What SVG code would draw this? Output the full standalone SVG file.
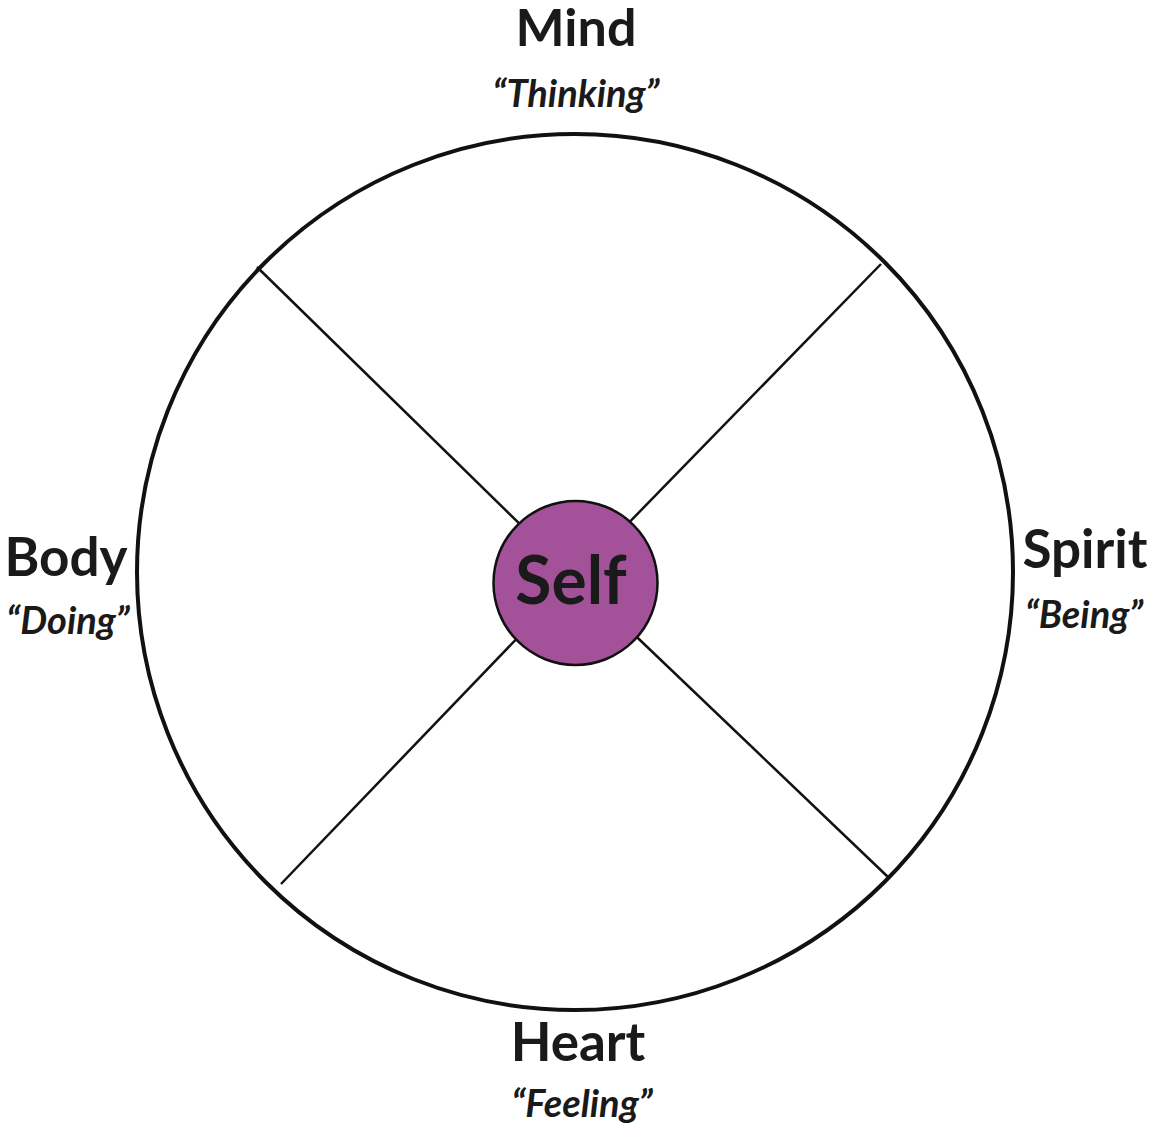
<svg xmlns="http://www.w3.org/2000/svg" width="1154" height="1131" viewBox="0 0 1154 1131">
<style>
.t{font-family:Lato,"Open Sans","Liberation Sans",sans-serif;font-weight:bold;fill:#1a1a1a;text-anchor:middle}
.s{font-family:Lato,"Open Sans","Liberation Sans",sans-serif;font-style:italic;font-weight:bold;fill:#1a1a1a;text-anchor:middle}
.ln{stroke:#111;stroke-width:2.5;fill:none}
</style>
<rect width="1154" height="1131" fill="#fff"/>
<g id="wheel">
<circle cx="575" cy="572" r="438" fill="none" stroke="#111" stroke-width="4"/>
</g>
<g id="connectors">
<line class="ln" x1="257" y1="267" x2="575" y2="578"/>
<line class="ln" x1="881" y1="264" x2="575" y2="578"/>
<line class="ln" x1="281" y1="884" x2="575" y2="578"/>
<line class="ln" x1="888" y1="877" x2="575" y2="578"/>
</g>
<g id="self">
<circle cx="575.5" cy="583" r="82" fill="#a3529a" stroke="#111" stroke-width="2.5"/>
<text class="t" x="571" y="604" font-size="66">Self</text>
</g>
<g id="mind">
<text class="t" x="576" y="46" font-size="52">Mind</text>
<text class="s" x="576" y="107" font-size="38">“Thinking”</text>
</g>
<g id="body">
<text class="t" x="66" y="576" font-size="53">Body</text>
<text class="s" x="68" y="634" font-size="38">“Doing”</text>
</g>
<g id="spirit">
<text class="t" x="1085" y="568" font-size="53">Spirit</text>
<text class="s" x="1084" y="628" font-size="38">“Being”</text>
</g>
<g id="heart">
<text class="t" x="578" y="1061" font-size="53">Heart</text>
<text class="s" x="582" y="1117" font-size="38">“Feeling”</text>
</g>
</svg>
